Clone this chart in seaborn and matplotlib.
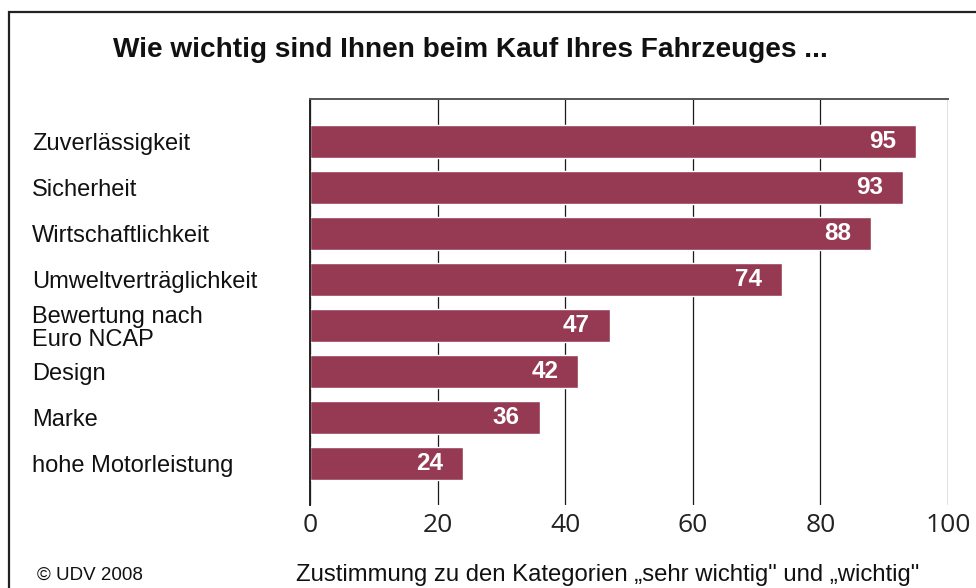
import pandas as pd
import seaborn as sns
import matplotlib.pyplot as plt
from matplotlib.patches import Rectangle

# data
kategorien = ['Zuverlässigkeit', 'Sicherheit', 'Wirtschaftlichkeit', 'Umweltverträglichkeit',
              'Bewertung nach\nEuro NCAP', 'Design', 'Marke', 'hohe Motorleistung']
zustimmung = [95, 93, 88, 74, 47, 42, 36, 24]
x_ticks = [0, 20, 40, 60, 80, 100]

df = pd.DataFrame({'kategorie': kategorien, 'wert': zustimmung})

sns.set_style('white')
plt.rcParams['font.family'] = ['Liberation Sans', 'DejaVu Sans']

bar_color = '#963a54'

fig = plt.figure(figsize=(9.76, 5.88), dpi=100)
ax = fig.add_axes([310/976, 1-505/588, 638/976, 406/588])

sns.barplot(data=df, x='wert', y='kategorie', orient='h', color=bar_color,
            width=0.72, saturation=1, ax=ax)

ax.set_xlim(0, 100)
ax.set_ylim(7.91, -0.92)
ax.set_xticks(x_ticks)
ax.set_xticklabels([str(t) for t in x_ticks], family='Open Sans', fontsize=19, color='#222')
ax.xaxis.grid(True, color='#1a1a1a', linewidth=0.9)
ax.set_axisbelow(True)
ax.tick_params(axis='x', length=0, pad=6)
ax.tick_params(axis='y', length=0, pad=200, labelsize=17)
for lbl in ax.get_yticklabels():
    lbl.set_ha('left')
    lbl.set_linespacing(1.05)
    lbl.set_color('#111')

for s in ['bottom', 'right']:
    ax.spines[s].set_visible(False)
ax.spines['left'].set_color('#222')
ax.spines['left'].set_linewidth(1.4)
ax.spines['top'].set_color('#555')
ax.spines['top'].set_linewidth(1.4)

# value labels inside the bars
for i, v in enumerate(zustimmung):
    ax.text(v - 3.1, i, str(v), ha='right', va='center', color='white',
            fontsize=17.5, fontweight='bold')

ax.set_ylabel('')
ax.set_xlabel('Zustimmung zu den Kategorien \u201esehr wichtig" und \u201ewichtig"',
              fontsize=17.2, color='#111')
ax.xaxis.set_label_coords((608-310)/638, (505-575)/406)
ax.xaxis.label.set_va('center')

fig.text(470/976, 1-50/588, 'Wie wichtig sind Ihnen beim Kauf Ihres Fahrzeuges ...',
         ha='center', va='center', fontsize=20.2, fontweight='bold', color='#111')
fig.text(37/976, 1-575/588, '© UDV 2008', ha='left', va='center', fontsize=13.5, color='#111')

# outer frame (only left and top edge visible in the image)
fig.add_artist(Rectangle((9/976, -0.1), 1.2, 1-12/588+0.1, transform=fig.transFigure,
                         fill=False, linewidth=1.6, edgecolor='#222'))

fig.savefig('out.png', dpi=100)
